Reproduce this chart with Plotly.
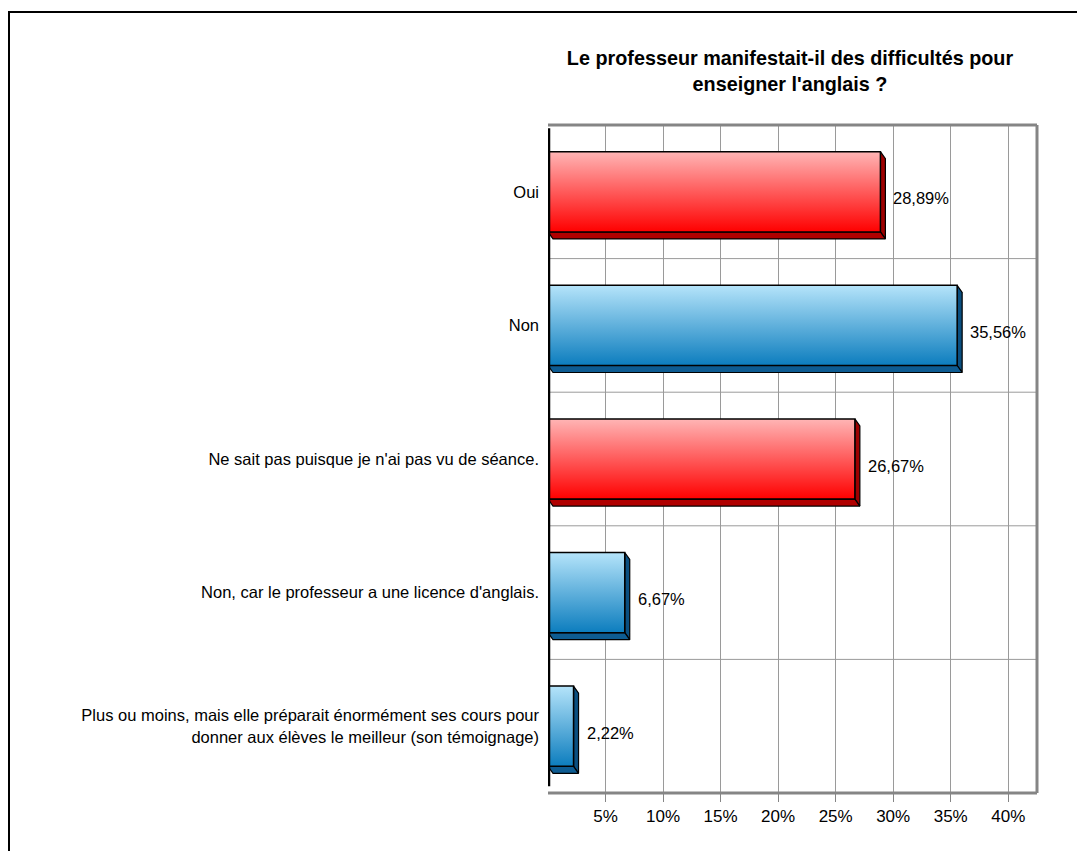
import plotly.graph_objects as go

categories = [
    "Oui",
    "Non",
    "Ne sait pas puisque je n'ai pas vu de séance.",
    "Non, car le professeur a une licence d'anglais.",
    "Plus ou moins, mais elle préparait énormément ses cours pour<br>donner aux élèves le meilleur (son témoignage)",
]
values = [28.89, 35.56, 26.67, 6.67, 2.22]
value_labels = ["28,89%", "35,56%", "26,67%", "6,67%", "2,22%"]
bar_colors = ["red", "blue", "red", "blue", "blue"]
tick_vals = [5, 10, 15, 20, 25, 30, 35, 40]
tick_text = ["5%", "10%", "15%", "20%", "25%", "30%", "35%", "40%"]
title_text = "<b>Le professeur manifestait-il des difficultés pour<br>enseigner l'anglais ?</b>"

# page body has an 8px margin; figure coordinates are screen - 8
OFF = 8
W, H = 1085 - 2 * OFF, 859 - 2 * OFF
ML, MT = 548 - OFF, 125 - OFF
MR = W - (1037 - OFF)
MB = H - (793 - OFF)
PW, PH = W - ML - MR, H - MT - MB
XMAX = 42.5
n = len(categories)
px_per_x = PW / XMAX
px_per_y = PH / n
DX = 5 / px_per_x
DY = 7 / px_per_y
HALF = 0.3

palette = {
    "red": dict(light="#FFB5B5", dark="#FF0000", side="#9E0000", under="#B00000"),
    "blue": dict(light="#B5E4FA", dark="#0C7DBE", side="#0A4F80", under="#0E5C92"),
}

fig = go.Figure()
ypos = [n - 1 - i for i in range(n)]

for v, y, c in zip(values, ypos, bar_colors):
    p = palette[c]
    yt, yb = y + HALF, y - HALF
    fig.add_trace(go.Scatter(
        x=[v, v + DX, v + DX, v, v], y=[yt, yt - DY, yb - DY, yb, yt],
        fill="toself", fillcolor=p["side"], mode="lines",
        line=dict(color="black", width=1.2), hoverinfo="skip", showlegend=False))
    fig.add_trace(go.Scatter(
        x=[0, v, v + DX, DX, 0], y=[yb, yb, yb - DY, yb - DY, yb],
        fill="toself", fillcolor=p["under"], mode="lines",
        line=dict(color="black", width=1.2), hoverinfo="skip", showlegend=False))
    fig.add_trace(go.Scatter(
        x=[0, v, v, 0, 0], y=[yb, yb, yt, yt, yb],
        fill="toself",
        fillgradient=dict(type="vertical", colorscale=[[0, p["dark"]], [1, p["light"]]]),
        mode="lines", line=dict(color="black", width=1.5),
        hoverinfo="skip", showlegend=False))

annotations = []
for v, y, lab in zip(values, ypos, value_labels):
    annotations.append(dict(
        x=v + DX, y=y - DY / 2 - 3 / px_per_y, xref="x", yref="y", text=lab, showarrow=False,
        xanchor="left", yanchor="middle", xshift=6,
        font=dict(family="Liberation Sans, Arial", size=16.5, color="black")))

def px_x(px):
    return (px - OFF - ML) / PW

def px_y(py):
    return (H - MB - (py - OFF)) / PH

shapes = []
for k in range(n - 1):
    shapes.append(dict(type="line", xref="x", yref="y", x0=0, x1=XMAX, y0=k + 0.5, y1=k + 0.5,
                       line=dict(color="#9A9A9A", width=1), layer="below"))
shapes.append(dict(type="line", xref="x", yref="paper", x0=0, x1=XMAX, y0=1, y1=1,
                   line=dict(color="#858585", width=3)))
shapes.append(dict(type="line", xref="paper", yref="paper", x0=1, x1=1, y0=0, y1=1,
                   line=dict(color="#858585", width=3)))
shapes.append(dict(type="line", xref="x", yref="paper", x0=0, x1=XMAX, y0=0, y1=0,
                   line=dict(color="#858585", width=3)))
shapes.append(dict(type="line", xref="x", yref="paper", x0=0, x1=0, y0=0.01, y1=0.995,
                   line=dict(color="black", width=4.5)))
# outer border (left and top)
shapes.append(dict(type="line", xref="paper", yref="paper",
                   x0=px_x(9), x1=px_x(9), y0=px_y(H + OFF), y1=px_y(12),
                   line=dict(color="black", width=2)))
shapes.append(dict(type="line", xref="paper", yref="paper",
                   x0=px_x(8), x1=px_x(W + OFF), y0=px_y(12), y1=px_y(12),
                   line=dict(color="black", width=2)))

fig.update_layout(
    width=W, height=H,
    margin=dict(l=ML, r=MR, t=MT, b=MB),
    paper_bgcolor="white", plot_bgcolor="white",
    font=dict(family="Liberation Sans, Arial", size=16, color="black"),
    title=dict(text=title_text, x=(790 - OFF) / W, xanchor="center",
               y=1 - (65 - OFF) / H, yanchor="middle",
               font=dict(family="Liberation Sans, Arial", size=19.8, color="black")),
    xaxis=dict(range=[0, XMAX], tickvals=tick_vals, ticktext=tick_text,
               showgrid=True, gridcolor="#9A9A9A", gridwidth=1,
               zeroline=False, showline=False,
               ticks="outside", ticklen=8, tickcolor="#858585", tickwidth=1,
               tickfont=dict(size=17), fixedrange=True),
    yaxis=dict(range=[-0.5, n - 0.5], tickvals=ypos, ticktext=categories,
               showgrid=False, zeroline=False, showline=False, ticks="",
               ticklabelstandoff=8, tickfont=dict(size=16.5), fixedrange=True),
    shapes=shapes, annotations=annotations, showlegend=False,
)

fig.write_html("out.html")
